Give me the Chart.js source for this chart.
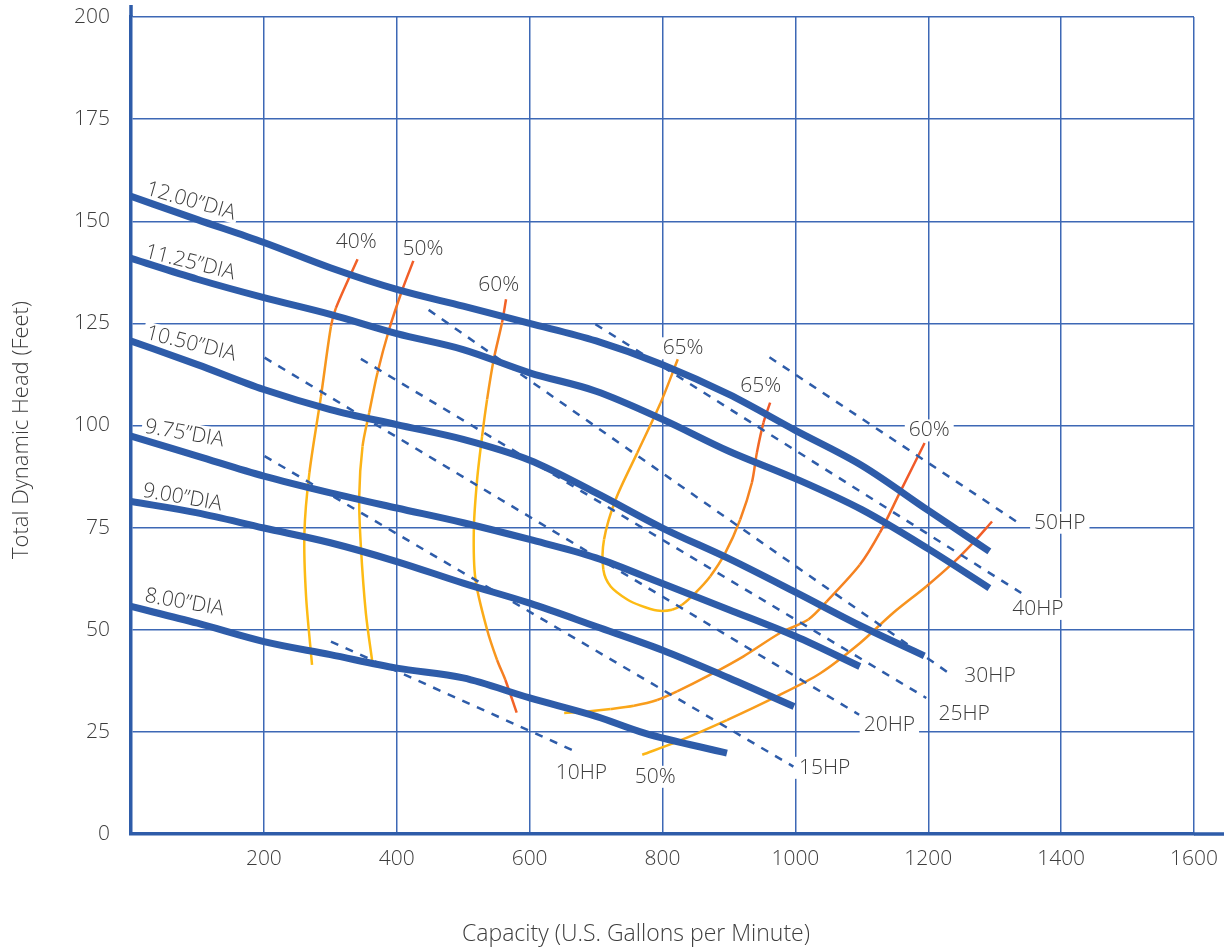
<!DOCTYPE html>
<html>
<head>
<meta charset="utf-8">
<title>Pump Performance Curve</title>
<script src="https://cdn.jsdelivr.net/npm/chart.js@4.4.1/dist/chart.umd.min.js"></script>
<style>
  html, body { margin: 0; padding: 0; background: #fff; }
  #wrap { width: 1224px; height: 948px; }
</style>
</head>
<body>
<div id="wrap"><canvas id="pumpChart"></canvas></div>
<script>
// head-capacity curves, [gpm, feet]
let dia1200 = [[0,156.1],[100,150.4],[200,144.8],[300,138.6],[400,133.3],[500,129.2],[600,125],[700,120.7],[800,114.9],[900,107.6],[1000,98.8],[1100,90.2],[1200,79.2],[1292,69.2]];
let dia1125 = [[0,140.9],[100,135.8],[200,131.3],[300,127.2],[400,122.5],[500,118.6],[600,112.9],[700,108.4],[800,101.5],[900,93.7],[1000,87],[1100,79.4],[1200,69.8],[1292,60.2]];
let dia1050 = [[0,120.7],[100,114.9],[200,108.8],[300,103.9],[400,100.2],[500,96.6],[600,91.5],[700,83.5],[800,74.9],[900,67.4],[1000,59.2],[1100,50.8],[1194,43.6]];
let dia975 = [[0,97.4],[100,92.5],[200,87.6],[300,83.5],[400,79.8],[500,76.2],[600,72.1],[700,67.6],[800,61.3],[900,54.9],[1000,48.4],[1097,41]];
let dia900 = [[0,81.4],[100,78.6],[200,74.9],[300,71.3],[400,66.7],[500,61.4],[600,56.5],[700,50.8],[800,45],[900,38.2],[998,31.2]];
let dia800 = [[0,55.7],[100,51.6],[200,47.1],[300,43.9],[400,40.6],[500,38.2],[600,33.3],[700,28.8],[773,24.7],[897,19.8]];

// horsepower lines
let hp10 = [[301,47.1],[665,20.5]];
let hp15 = [[201,92.5],[997,16.5]];
let hp20 = [[201,116.6],[1096,29.2]];
let hp25 = [[346,116.3],[1197,33.3]];
let hp30 = [[448,128.3],[1237,38.7]];
let hp40 = [[699,124.8],[1340,59]];
let hp50 = [[961,116.7],[1340,75.7]];

// efficiency contours
let eff40 = [[341,140.7],[308.5,128.8],[301,124.3],[286,107.2],[268.5,88.4],[261,73.7],[263.5,58.2],[272.5,41.4]];
let eff50 = [[425,140.3],[408.5,133.3],[388.5,123.5],[371,112.9],[358.5,103.1],[348.5,94.9],[343.5,82.7],[346,70.4],[353.5,54.1],[363.5,41.8]];
let eff60 = [[564.5,130.9],[558.5,125.2],[546,116.2],[536,106.4],[528.5,97.4],[521,86.8],[516,74.5],[518.5,62.3],[536,50],[551,42.6],[563.5,37.7],[580.5,29.7]];
let eff65 = [[823,116.2],[797,105.5],[762,93.3],[729.5,81.9],[712,72.1],[711,64.7],[722,60.6],[747,57.4],[767,55.9],[792,54.7],[814.5,54.9],[829.5,56.1],[849.5,59],[872,63.1],[894.5,68.8],[917,77],[934.5,86],[942,93.3],[952,100.7],[962,105.6]];
let eff60b = [[652,29.6],[687,30],[722,30.6],[757,31.4],[792,32.8],[822,34.9],[872,39],[922,43.5],[977,49.2],[1019.5,52.5],[1047,56.9],[1097,65.9],[1127,73.7],[1157,83.5],[1194.5,95.7]];
let eff50b = [[769.5,19.4],[822,22.6],[897,27.9],[972,33.7],[1037,39.3],[1097,46.7],[1147,54.1],[1197,60.6],[1237,66.3],[1267,71.2],[1296,76.5]];

let xTicks = [0,200,400,600,800,1000,1200,1400,1600];
let yTicks = [0,25,50,75,100,125,150,175,200];

// text on the curves: [text, gpm, feet, angle]
let diaLabels = [['12.00”DIA',21,156.6,16],['11.25”DIA',19.5,141.2,14],['10.50”DIA',21,121.3,14],['9.75”DIA',19.5,98.3,10],['9.00”DIA',16.5,82.6,10],['8.00”DIA',19.5,56.9,10]];
let tagLabels = [['10HP',678,14.9],['15HP',1044,16.2],['20HP',1141.5,26.7],['25HP',1254,29.4],['30HP',1293,38.7],['40HP',1365,55.1],['50HP',1398,76.2],
  ['40%',339,144.9],['50%',439.5,143.1],['60%',553.5,134.3],['65%',831,118.9],['65%',948,109.6],['60%',1201.5,98.8],['50%',789,14]];


let blue = '#2e5ca9';
let gridBlue = '#3d68b5';
let textGrey = '#3d3d3d';
let fontFam = '"Open Sans", "Noto Sans", sans-serif';
let RED = '#f0532a', ORANGE = '#f7931e', YELLOW = '#fdbb14';

function pts(arr) { return arr.map(p => ({x: p[0], y: p[1]})); }

function hexRgb(h) { let n = parseInt(h.slice(1), 16); return [(n >> 16) & 255, (n >> 8) & 255, n & 255]; }
function blend(stops, t) {
	let s = Math.max(0, Math.min(1, t)) * (stops.length - 1);
	let i = Math.min(Math.floor(s), stops.length - 2);
	let f = s - i;
	let a = hexRgb(stops[i]), b = hexRgb(stops[i + 1]);
	return 'rgb(' + a.map((v, k) => Math.round(v + (b[k] - v) * f)).join(',') + ')';
}

let datasets = [];

[dia1200, dia1125, dia1050, dia975, dia900, dia800].forEach(d => {
	datasets.push({ data: pts(d), borderColor: blue, borderWidth: 7, cubicInterpolationMode: 'monotone', order: 1 });
});

[hp10, hp15, hp20, hp25, hp30, hp40, hp50].forEach(d => {
	datasets.push({ data: pts(d), borderColor: blue, borderWidth: 2.5, borderDash: [8, 8], order: 2 });
});

[[eff40, [RED, ORANGE, YELLOW, YELLOW]],
 [eff50, [RED, ORANGE, YELLOW, YELLOW]],
 [eff60, [RED, ORANGE, YELLOW, YELLOW, ORANGE, RED]],
 [eff65, [ORANGE, YELLOW, YELLOW, ORANGE, RED]],
 [eff60b, [YELLOW, ORANGE, ORANGE, RED]],
 [eff50b, [YELLOW, ORANGE, ORANGE, RED]]].forEach(e => {
	let n = e[0].length;
	let stops = e[1];
	datasets.push({
		data: pts(e[0]), borderColor: stops[0], borderWidth: 2.5, tension: 0.3, order: 3,
		segment: { borderColor: c => blend(stops, (c.p0DataIndex + 0.5) / (n - 1)) }
	});
});

// labels with a white patch behind them, drawn over the grid
let labelPlugin = {
	id: 'labels',
	beforeDatasetsDraw(chart) {
		let c = chart.ctx, xs = chart.scales.x, ys = chart.scales.y;
		c.save();
		c.font = '300 21px ' + fontFam;
		diaLabels.forEach(l => {
			let w = c.measureText(l[0]).width;
			c.save();
			c.translate(xs.getPixelForValue(l[1]), ys.getPixelForValue(l[2]));
			c.rotate(l[3] * Math.PI / 180);
			c.fillStyle = '#fff';
			c.fillRect(-3, -17, w + 6, 21);
			c.fillStyle = textGrey;
			c.textAlign = 'left';
			c.textBaseline = 'alphabetic';
			c.fillText(l[0], 0, 0);
			c.restore();
		});
		c.textAlign = 'center';
		c.textBaseline = 'middle';
		tagLabels.forEach(l => {
			let w = c.measureText(l[0]).width;
			let px = xs.getPixelForValue(l[1]), py = ys.getPixelForValue(l[2]);
			c.fillStyle = '#fff';
			c.fillRect(px - w / 2 - 4, py - 11, w + 8, 22);
			c.fillStyle = textGrey;
			c.fillText(l[0], px, py);
		});
		c.restore();
	},
	afterDraw(chart) {
		let c = chart.ctx, a = chart.chartArea;
		c.save();
		c.strokeStyle = blue;
		c.lineWidth = 3.5;
		c.beginPath();
		c.moveTo(a.left, a.top - 12);
		c.lineTo(a.left, a.top);
		c.moveTo(a.right, a.bottom);
		c.lineTo(chart.width, a.bottom);
		c.stroke();

		c.fillStyle = textGrey;
		c.font = '300 23px ' + fontFam;
		c.textAlign = 'center';
		c.textBaseline = 'middle';
		c.fillText('Capacity (U.S. Gallons per Minute)', 636, 934);
		c.font = '300 22px ' + fontFam;
		c.translate(22, 430);
		c.rotate(-Math.PI / 2);
		c.fillText('Total Dynamic Head (Feet)', 0, 0);
		c.restore();
	}
};

let pumpChart = new Chart(document.getElementById('pumpChart').getContext('2d'), {
	type: 'scatter',
	data: { datasets: datasets },
	options: {
		responsive: true,
		maintainAspectRatio: false,
		animation: false,
		showLine: true,
		elements: { point: { radius: 0, hoverRadius: 0 } },
		layout: { padding: { top: 17, right: 30, bottom: 0, left: 0 } },
		plugins: { legend: { display: false }, tooltip: { enabled: false } },
		scales: {
			x: {
				type: 'linear', min: xTicks[0], max: xTicks[xTicks.length - 1],
				afterBuildTicks: s => { s.ticks = xTicks.map(v => ({ value: v })); },
				afterFit: s => { s.height = 114; s.paddingLeft = 0; s.paddingRight = 0; },
				grid: { color: gridBlue, lineWidth: 1.5, drawTicks: false },
				border: { color: blue, width: 3.5 },
				ticks: { color: textGrey, padding: 12, font: { family: fontFam, size: 21, weight: '300' },
					callback: v => v === 0 ? '' : v }
			},
			y: {
				type: 'linear', min: yTicks[0], max: yTicks[yTicks.length - 1],
				afterBuildTicks: s => { s.ticks = yTicks.map(v => ({ value: v })); },
				afterFit: s => { s.width = 131; s.paddingTop = 0; s.paddingBottom = 0; },
				grid: { color: gridBlue, lineWidth: 1.5, drawTicks: false },
				border: { color: blue, width: 3.5 },
				ticks: { color: textGrey, padding: 21, font: { family: fontFam, size: 21, weight: '300' } }
			}
		}
	},
	plugins: [labelPlugin]
});
</script>
</body>
</html>
